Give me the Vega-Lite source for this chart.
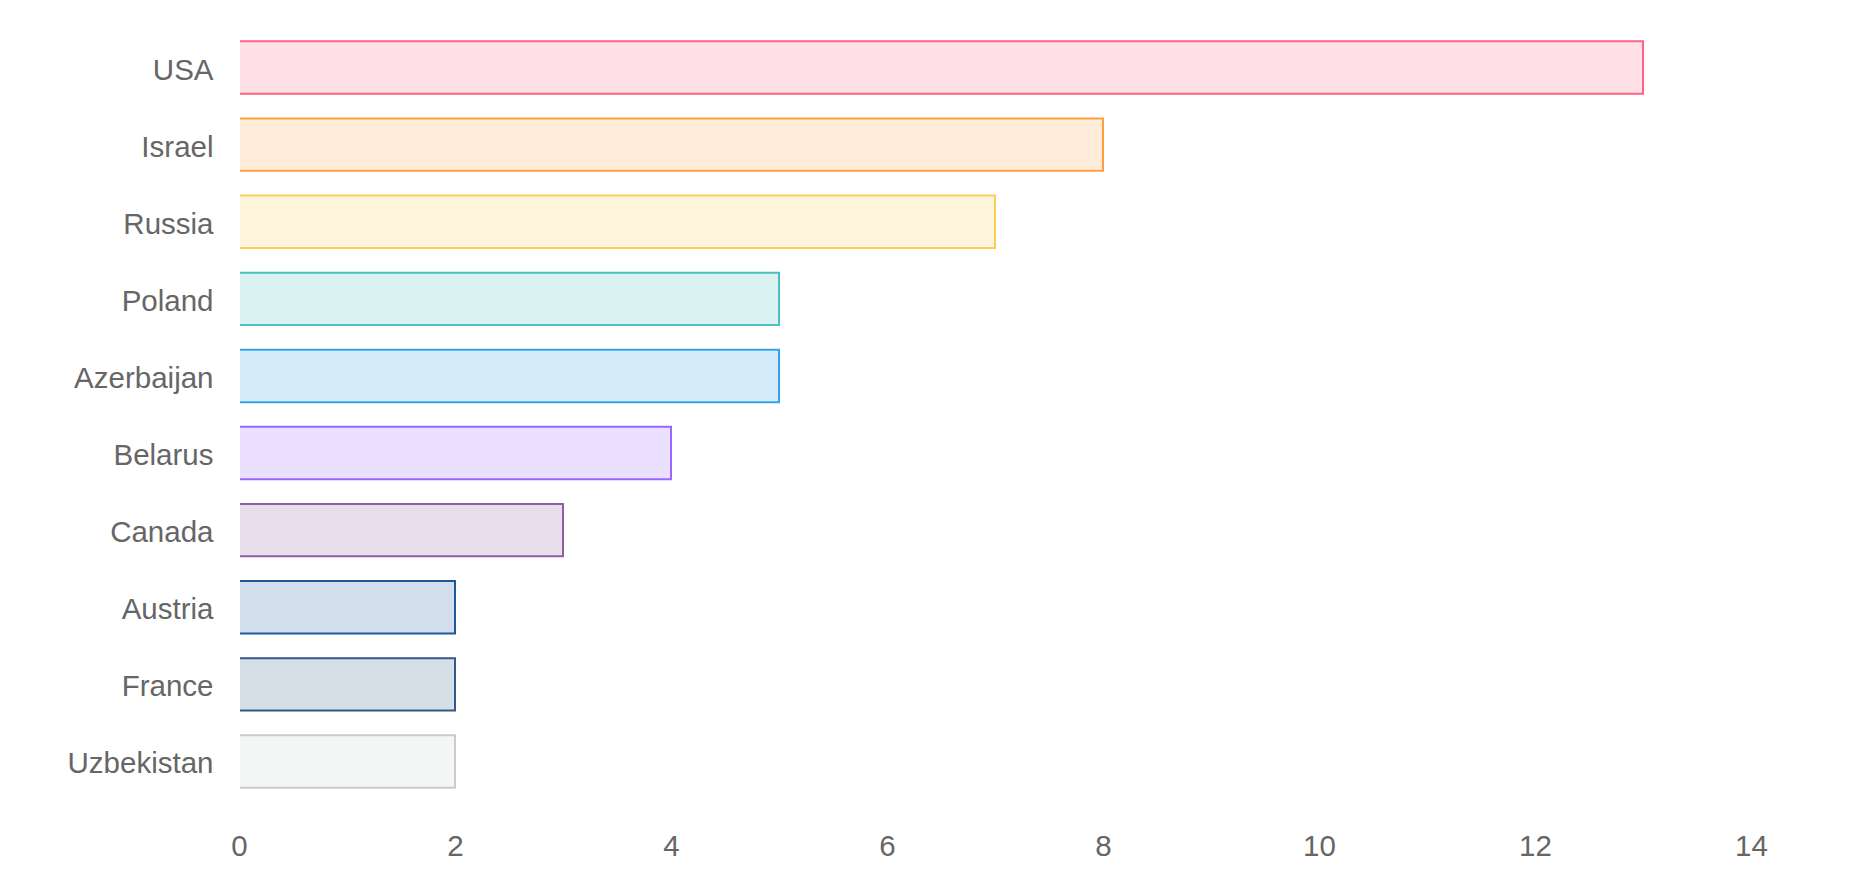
{
  "$schema": "https://vega.github.io/schema/vega-lite/v6.json",
  "autosize": "none",
  "width": 1512,
  "height": 771,
  "padding": {"left": 239, "top": 29, "right": 113, "bottom": 90},
  "background": "white",
  "config": {"view": {"stroke": null}, "font": "Liberation Sans"},
  "data": {"values": [
    {"country": "USA", "value": 13},
    {"country": "Israel", "value": 8},
    {"country": "Russia", "value": 7},
    {"country": "Poland", "value": 5},
    {"country": "Azerbaijan", "value": 5},
    {"country": "Belarus", "value": 4},
    {"country": "Canada", "value": 3},
    {"country": "Austria", "value": 2},
    {"country": "France", "value": 2},
    {"country": "Uzbekistan", "value": 2}
  ]},
  "layer": [
    {
      "mark": {"type": "bar", "strokeWidth": 2, "fillOpacity": 0.2},
      "encoding": {
        "y": {
          "field": "country", "type": "nominal", "sort": null,
          "scale": {"paddingInner": 0.32, "paddingOuter": 0.16},
          "axis": {"title": null, "ticks": false, "domain": false, "grid": false, "labelPadding": 26, "labelOffset": 3, "labelFontSize": 29.5, "labelColor": "#666666", "labelFont": "Liberation Sans"}
        },
        "x": {
          "field": "value", "type": "quantitative",
          "scale": {"domain": [0, 14], "nice": false},
          "axis": {"title": null, "values": [0, 2, 4, 6, 8, 10, 12, 14], "format": "d", "ticks": false, "domain": false, "grid": false, "labelPadding": 32, "labelFontSize": 29.5, "labelColor": "#666666", "labelFont": "Liberation Sans", "labelFlush": false}
        },
        "color": {
          "field": "country", "type": "nominal", "legend": null,
          "scale": {
            "domain": ["USA", "Israel", "Russia", "Poland", "Azerbaijan", "Belarus", "Canada", "Austria", "France", "Uzbekistan"],
            "range": ["rgb(255,99,132)", "rgb(255,159,64)", "rgb(255,205,86)", "rgb(75,192,192)", "rgb(54,162,235)", "rgb(153,102,255)", "rgb(142,94,162)", "rgb(32,88,160)", "rgb(52,88,136)", "rgb(201,203,207)"]
          }
        },
        "stroke": {
          "field": "country", "type": "nominal", "legend": null,
          "scale": {
            "domain": ["USA", "Israel", "Russia", "Poland", "Azerbaijan", "Belarus", "Canada", "Austria", "France", "Uzbekistan"],
            "range": ["rgb(255,99,132)", "rgb(255,159,64)", "rgb(255,205,86)", "rgb(75,192,192)", "rgb(54,162,235)", "rgb(153,102,255)", "rgb(142,94,162)", "rgb(32,88,160)", "rgb(52,88,136)", "rgb(201,203,207)"]
          }
        }
      }
    },
    {
      "mark": {"type": "rule", "color": "white", "strokeWidth": 2},
      "encoding": {"x": {"datum": 0}}
    }
  ]
}
